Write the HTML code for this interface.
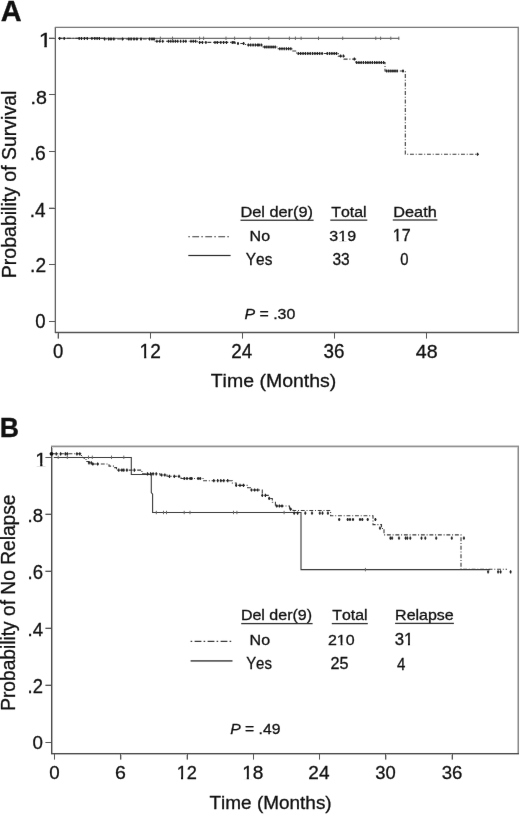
<!DOCTYPE html>
<html><head><meta charset="utf-8"><style>
html,body{margin:0;padding:0;background:#fff;overflow:hidden;}
svg{display:block;font-family:"Liberation Sans", sans-serif;font-kerning:none;}
text{fill:#111;stroke:#111;stroke-width:0.3px;}
</style></head><body>
<svg width="520" height="815" viewBox="0 0 520 815">
<defs><filter id="bl" x="0" y="0" width="520" height="815" filterUnits="userSpaceOnUse" color-interpolation-filters="sRGB"><feConvolveMatrix order="3" kernelMatrix="0.0016 0.0371 0.0016 0.0371 0.8450 0.0371 0.0016 0.0371 0.0016" edgeMode="duplicate" preserveAlpha="true"/></filter></defs>
<g filter="url(#bl)">
<rect width="520" height="815" fill="#fff"/>
<g id="static">
<text transform="translate(0.63,20.79) scale(1.0092,1)" font-size="28.68" font-weight="bold">A</text>
<text transform="translate(-0.17,437.4) scale(0.9553,1)" font-size="27.97" font-weight="bold">B</text>
<g transform="translate(38.65,47.4) scale(1.1952,1)"><text font-size="19.57">1</text><rect x="0.38" y="-2.56" width="4.33" height="3.36" fill="#fff"/><rect x="6.86" y="-2.56" width="3.89" height="3.36" fill="#fff"/></g>
<text transform="translate(30.43,103.71) scale(1.0368,1)" font-size="19.01">.8</text>
<text transform="translate(29.76,159.71) scale(0.9922,1)" font-size="19.44">.6</text>
<text transform="translate(29.79,217.1) scale(0.9647,1)" font-size="19.71">.4</text>
<text transform="translate(30.08,271.9) scale(0.9919,1)" font-size="19.29">.2</text>
<text transform="translate(35.36,328.31) scale(0.9540,1)" font-size="19.44">0</text>
<text transform="translate(53.06,358.2) scale(0.9271,1)" font-size="20.00">0</text>
<g transform="translate(139.56,358.4) scale(0.9614,1)"><text font-size="19.86">12</text><rect x="0.39" y="-2.58" width="4.35" height="3.38" fill="#fff"/><rect x="7.01" y="-2.58" width="3.90" height="3.38" fill="#fff"/></g>
<text transform="translate(231.36,358.1) scale(0.9694,1)" font-size="19.43">24</text>
<text transform="translate(323.55,358.2) scale(0.9417,1)" font-size="20.00">36</text>
<text transform="translate(415.81,357.81) scale(1.0318,1)" font-size="19.01">48</text>
<text transform="translate(210.71,387.2) scale(1.0162,1)" font-size="19.19">Time (Months)</text>
<text transform="translate(15.8,278.16) rotate(-90) scale(1.0100,1)" font-size="19.33">Probability of Survival</text>
<text transform="translate(240.39,216.9) scale(1.0815,1)" font-size="15.12">Del der(9)</text>
<text transform="translate(331.28,216.7) scale(1.0716,1)" font-size="14.83">Total</text>
<text transform="translate(393.3,216.7) scale(1.0867,1)" font-size="14.97">Death</text>
<text transform="translate(249.62,241) scale(1.0506,1)" font-size="15.26">No</text>
<text transform="translate(245.84,265) scale(0.9734,1)" font-size="15.84">Yes</text>
<g transform="translate(329.36,240.65) scale(1.0527,1)"><text font-size="15.21">319</text><rect x="8.76" y="-2.24" width="3.29" height="3.04" fill="#fff"/><rect x="13.87" y="-2.24" width="2.95" height="3.04" fill="#fff"/></g>
<g transform="translate(392.85,241.1) scale(1.0088,1)"><text font-size="15.94">17</text><rect x="0.31" y="-2.29" width="3.45" height="3.09" fill="#fff"/><rect x="5.67" y="-2.29" width="3.09" height="3.09" fill="#fff"/></g>
<text transform="translate(332.48,265.44) scale(0.9847,1)" font-size="15.77">33</text>
<text transform="translate(400.31,265.34) scale(0.9212,1)" font-size="16.06">0</text>
<text transform="translate(244.42,319) scale(1.0546,1)" font-size="15.12"><tspan font-style="italic">P</tspan> = .30</text>
<g transform="translate(35.37,465.7) scale(1.0670,1)"><text font-size="18.84">1</text><rect x="0.37" y="-2.51" width="4.14" height="3.31" fill="#fff"/><rect x="6.64" y="-2.51" width="3.71" height="3.31" fill="#fff"/></g>
<text transform="translate(27.53,521.71) scale(0.9989,1)" font-size="18.59">.8</text>
<text transform="translate(27.53,579.2) scale(0.9486,1)" font-size="19.58">.6</text>
<text transform="translate(27.52,635.6) scale(0.9982,1)" font-size="18.70">.4</text>
<text transform="translate(27.54,692.5) scale(0.9544,1)" font-size="19.29">.2</text>
<text transform="translate(32.45,748.91) scale(0.9789,1)" font-size="19.15">0</text>
<text transform="translate(49.15,779.11) scale(0.9789,1)" font-size="19.15">0</text>
<text transform="translate(114.92,779.01) scale(1.0445,1)" font-size="18.73">6</text>
<g transform="translate(176.64,779.2) scale(0.9611,1)"><text font-size="19.00">12</text><rect x="0.37" y="-2.52" width="4.15" height="3.32" fill="#fff"/><rect x="6.72" y="-2.52" width="3.72" height="3.32" fill="#fff"/></g>
<g transform="translate(242.16,779.01) scale(1.0196,1)"><text font-size="18.73">18</text><rect x="0.37" y="-2.50" width="4.10" height="3.30" fill="#fff"/><rect x="6.61" y="-2.50" width="3.68" height="3.30" fill="#fff"/></g>
<text transform="translate(308.35,779.2) scale(1.0015,1)" font-size="19.00">24</text>
<text transform="translate(375.36,779.01) scale(0.9847,1)" font-size="18.73">30</text>
<text transform="translate(441.65,779.01) scale(0.9951,1)" font-size="18.73">36</text>
<text transform="translate(209.52,809) scale(1.0362,1)" font-size="18.31">Time (Months)</text>
<text transform="translate(14.6,710.83) rotate(-90) scale(0.9919,1)" font-size="19.33">Probability of No Relapse</text>
<text transform="translate(240.92,620.3) scale(1.0899,1)" font-size="14.68">Del der(9)</text>
<text transform="translate(332.28,620.1) scale(1.0931,1)" font-size="14.54">Total</text>
<text transform="translate(395.12,620.3) scale(1.1340,1)" font-size="14.10">Relapse</text>
<text transform="translate(249.62,644.9) scale(1.0506,1)" font-size="15.26">No</text>
<text transform="translate(246.15,669.4) scale(0.9430,1)" font-size="15.84">Yes</text>
<g transform="translate(327.9,645.05) scale(1.0430,1)"><text font-size="15.35">210</text><rect x="8.84" y="-2.25" width="3.32" height="3.05" fill="#fff"/><rect x="14.00" y="-2.25" width="2.98" height="3.05" fill="#fff"/></g>
<g transform="translate(394.63,645.14) scale(1.0760,1)"><text font-size="15.63">31</text><rect x="9.00" y="-2.27" width="3.39" height="3.07" fill="#fff"/><rect x="14.24" y="-2.27" width="3.04" height="3.07" fill="#fff"/></g>
<text transform="translate(330.59,669.44) scale(1.0255,1)" font-size="15.77">25</text>
<text transform="translate(397,669.67) scale(0.9006,1)" font-size="16.76">4</text>
<text transform="translate(230.23,734.2) scale(1.0389,1)" font-size="15.12"><tspan font-style="italic">P</tspan> = .49</text>
<rect x="54" y="27" width="1" height="306" fill="#cdcdcd"/>
<rect x="55" y="26" width="464" height="1" fill="#dcdcdc"/>
<rect x="517" y="27" width="1" height="306" fill="#c8c8c8"/>
<rect x="55" y="331" width="464" height="1" fill="#d7d7d7"/>
<rect x="55" y="333" width="464" height="1" fill="#d7d7d7"/>
<rect x="55" y="27" width="1" height="306" fill="#606060"/>
<rect x="55" y="27" width="464" height="1" fill="#787878"/>
<rect x="518" y="27" width="1" height="306" fill="#888888"/>
<rect x="55" y="332" width="464" height="1" fill="#505050"/>
<rect x="49" y="37" width="6" height="1" fill="#c3c3c3"/>
<rect x="49" y="38" width="6" height="1" fill="#555555"/>
<rect x="49" y="94" width="6" height="1" fill="#555555"/>
<rect x="49" y="151" width="6" height="1" fill="#555555"/>
<rect x="49" y="207" width="6" height="1" fill="#c3c3c3"/>
<rect x="49" y="208" width="6" height="1" fill="#555555"/>
<rect x="49" y="264" width="6" height="1" fill="#555555"/>
<rect x="49" y="321" width="6" height="1" fill="#555555"/>
<rect x="57" y="333" width="1" height="5.6" fill="#c3c3c3"/>
<rect x="58" y="333" width="1" height="5.6" fill="#555555"/>
<rect x="150" y="333" width="1" height="5.6" fill="#555555"/>
<rect x="242" y="333" width="1" height="5.6" fill="#555555"/>
<rect x="334" y="333" width="1" height="5.6" fill="#555555"/>
<rect x="426" y="333" width="1" height="5.6" fill="#555555"/>
<rect x="52" y="446" width="1" height="308" fill="#b4b4b4"/>
<rect x="51" y="445" width="468" height="1" fill="#cdcdcd"/>
<rect x="51" y="447" width="468" height="1" fill="#e1e1e1"/>
<rect x="517" y="446" width="1" height="308" fill="#c3c3c3"/>
<rect x="51" y="754" width="468" height="1" fill="#b9b9b9"/>
<rect x="51" y="446" width="1" height="308" fill="#4b4b4b"/>
<rect x="51" y="446" width="468" height="1" fill="#909090"/>
<rect x="518" y="446" width="1" height="308" fill="#888888"/>
<rect x="51" y="753" width="468" height="1" fill="#4a4a4a"/>
<rect x="45.4" y="457" width="5.6" height="1" fill="#555555"/>
<rect x="45.4" y="513" width="5.6" height="1" fill="#c3c3c3"/>
<rect x="45.4" y="514" width="5.6" height="1" fill="#555555"/>
<rect x="45.4" y="570" width="5.6" height="1" fill="#c3c3c3"/>
<rect x="45.4" y="571" width="5.6" height="1" fill="#555555"/>
<rect x="45.4" y="627" width="5.6" height="1" fill="#c3c3c3"/>
<rect x="45.4" y="628" width="5.6" height="1" fill="#555555"/>
<rect x="45.4" y="684" width="5.6" height="1" fill="#c3c3c3"/>
<rect x="45.4" y="685" width="5.6" height="1" fill="#555555"/>
<rect x="45.4" y="742" width="5.6" height="1" fill="#555555"/>
<rect x="54" y="754" width="1" height="5.6" fill="#555555"/>
<rect x="121" y="754" width="1" height="5.6" fill="#c3c3c3"/>
<rect x="120" y="754" width="1" height="5.6" fill="#555555"/>
<rect x="186" y="754" width="1" height="5.6" fill="#c3c3c3"/>
<rect x="187" y="754" width="1" height="5.6" fill="#555555"/>
<rect x="253" y="754" width="1" height="5.6" fill="#555555"/>
<rect x="319" y="754" width="1" height="5.6" fill="#555555"/>
<rect x="386" y="754" width="1" height="5.6" fill="#c3c3c3"/>
<rect x="385" y="754" width="1" height="5.6" fill="#555555"/>
<rect x="451" y="754" width="1" height="5.6" fill="#c3c3c3"/>
<rect x="452" y="754" width="1" height="5.6" fill="#555555"/>
<rect x="240.5" y="219.6" width="73.1" height="1.3" fill="#323232"/>
<rect x="330.3" y="219.5" width="37" height="1.3" fill="#323232"/>
<rect x="392.8" y="219.35" width="44.6" height="1.3" fill="#323232"/>
<rect x="241.2" y="622.95" width="71.4" height="1.3" fill="#323232"/>
<rect x="331.8" y="622.95" width="36" height="1.3" fill="#323232"/>
<rect x="395.1" y="622.75" width="58.8" height="1.3" fill="#323232"/>
</g>
<g id="curves">
<rect x="58.4" y="37.8" width="340.8" height="1" fill="#4a4a4a"/>
<rect x="159.90" y="36.60" width="1" height="3.4" fill="#666"/>
<rect x="172.00" y="36.60" width="1" height="3.4" fill="#666"/>
<rect x="199.10" y="36.60" width="1" height="3.4" fill="#666"/>
<rect x="203.10" y="36.60" width="1" height="3.4" fill="#666"/>
<rect x="225.50" y="36.60" width="1" height="3.4" fill="#666"/>
<rect x="234.10" y="36.60" width="1" height="3.4" fill="#666"/>
<rect x="249.70" y="36.60" width="1" height="3.4" fill="#666"/>
<rect x="268.30" y="36.60" width="1" height="3.4" fill="#666"/>
<rect x="288.90" y="36.60" width="1" height="3.4" fill="#666"/>
<rect x="294.90" y="36.60" width="1" height="3.4" fill="#666"/>
<rect x="300.60" y="36.60" width="1" height="3.4" fill="#666"/>
<rect x="318.00" y="36.60" width="1" height="3.4" fill="#666"/>
<rect x="342.20" y="36.60" width="1" height="3.4" fill="#666"/>
<rect x="375.30" y="36.60" width="1" height="3.4" fill="#666"/>
<rect x="380.10" y="36.60" width="1" height="3.4" fill="#666"/>
<rect x="390.30" y="36.60" width="1" height="3.4" fill="#666"/>
<rect x="398.30" y="36.60" width="1" height="3.4" fill="#666"/>
<path d="M58.4,38.4 H104.5 V39.0 H155.2 V41.3 H197.3 V42.4 H235.2 V43.5 H245.6 V45.0 H263.1 V47.0 H277.5 V48.7 H291.9 V51.0 H296.5 V53.5 H338.3 V56.1 H344 V59.1 H355.6 V62.6 H385 V71.0 H405.3 V154.3 H479" fill="none" stroke="#3a3a3a" stroke-width="1.1" stroke-dasharray="3.9 1.8 1 1.8" />
<path d="M59.00,36.90h1.2v0.85h0.40v1.3h-0.40v0.85h-1.2v-0.85h-0.40v-1.3h0.40z" fill="#222222"/>
<path d="M63.60,36.90h1.2v0.85h0.40v1.3h-0.40v0.85h-1.2v-0.85h-0.40v-1.3h0.40z" fill="#222222"/>
<path d="M78.60,36.90h1.2v0.85h0.40v1.3h-0.40v0.85h-1.2v-0.85h-0.40v-1.3h0.40z" fill="#222222"/>
<path d="M80.90,36.90h1.2v0.85h0.40v1.3h-0.40v0.85h-1.2v-0.85h-0.40v-1.3h0.40z" fill="#222222"/>
<path d="M83.80,36.90h1.2v0.85h0.40v1.3h-0.40v0.85h-1.2v-0.85h-0.40v-1.3h0.40z" fill="#222222"/>
<path d="M86.70,36.90h1.2v0.85h0.40v1.3h-0.40v0.85h-1.2v-0.85h-0.40v-1.3h0.40z" fill="#222222"/>
<path d="M91.30,36.90h1.2v0.85h0.40v1.3h-0.40v0.85h-1.2v-0.85h-0.40v-1.3h0.40z" fill="#222222"/>
<path d="M94.20,36.90h1.2v0.85h0.40v1.3h-0.40v0.85h-1.2v-0.85h-0.40v-1.3h0.40z" fill="#222222"/>
<path d="M96.50,36.90h1.2v0.85h0.40v1.3h-0.40v0.85h-1.2v-0.85h-0.40v-1.3h0.40z" fill="#222222"/>
<path d="M98.80,36.90h1.2v0.85h0.40v1.3h-0.40v0.85h-1.2v-0.85h-0.40v-1.3h0.40z" fill="#222222"/>
<path d="M104.00,37.50h1.2v0.85h0.40v1.3h-0.40v0.85h-1.2v-0.85h-0.40v-1.3h0.40z" fill="#222222"/>
<path d="M108.10,37.50h1.2v0.85h0.40v1.3h-0.40v0.85h-1.2v-0.85h-0.40v-1.3h0.40z" fill="#222222"/>
<path d="M110.40,37.50h1.2v0.85h0.40v1.3h-0.40v0.85h-1.2v-0.85h-0.40v-1.3h0.40z" fill="#222222"/>
<path d="M113.20,37.50h1.2v0.85h0.40v1.3h-0.40v0.85h-1.2v-0.85h-0.40v-1.3h0.40z" fill="#222222"/>
<path d="M121.90,37.50h1.2v0.85h0.40v1.3h-0.40v0.85h-1.2v-0.85h-0.40v-1.3h0.40z" fill="#222222"/>
<path d="M128.20,37.50h1.2v0.85h0.40v1.3h-0.40v0.85h-1.2v-0.85h-0.40v-1.3h0.40z" fill="#222222"/>
<path d="M130.50,37.50h1.2v0.85h0.40v1.3h-0.40v0.85h-1.2v-0.85h-0.40v-1.3h0.40z" fill="#222222"/>
<path d="M133.40,37.50h1.2v0.85h0.40v1.3h-0.40v0.85h-1.2v-0.85h-0.40v-1.3h0.40z" fill="#222222"/>
<path d="M136.30,37.50h1.2v0.85h0.40v1.3h-0.40v0.85h-1.2v-0.85h-0.40v-1.3h0.40z" fill="#222222"/>
<path d="M140.40,37.50h1.2v0.85h0.40v1.3h-0.40v0.85h-1.2v-0.85h-0.40v-1.3h0.40z" fill="#222222"/>
<path d="M149.00,37.50h1.2v0.85h0.40v1.3h-0.40v0.85h-1.2v-0.85h-0.40v-1.3h0.40z" fill="#222222"/>
<path d="M151.40,37.50h1.2v0.85h0.40v1.3h-0.40v0.85h-1.2v-0.85h-0.40v-1.3h0.40z" fill="#222222"/>
<path d="M153.40,37.50h1.2v0.85h0.40v1.3h-0.40v0.85h-1.2v-0.85h-0.40v-1.3h0.40z" fill="#222222"/>
<path d="M156.30,39.80h1.2v0.85h0.40v1.3h-0.40v0.85h-1.2v-0.85h-0.40v-1.3h0.40z" fill="#222222"/>
<path d="M159.20,39.80h1.2v0.85h0.40v1.3h-0.40v0.85h-1.2v-0.85h-0.40v-1.3h0.40z" fill="#222222"/>
<path d="M162.10,39.80h1.2v0.85h0.40v1.3h-0.40v0.85h-1.2v-0.85h-0.40v-1.3h0.40z" fill="#222222"/>
<path d="M167.90,39.80h1.2v0.85h0.40v1.3h-0.40v0.85h-1.2v-0.85h-0.40v-1.3h0.40z" fill="#222222"/>
<path d="M170.20,39.80h1.2v0.85h0.40v1.3h-0.40v0.85h-1.2v-0.85h-0.40v-1.3h0.40z" fill="#222222"/>
<path d="M172.50,39.80h1.2v0.85h0.40v1.3h-0.40v0.85h-1.2v-0.85h-0.40v-1.3h0.40z" fill="#222222"/>
<path d="M174.80,39.80h1.2v0.85h0.40v1.3h-0.40v0.85h-1.2v-0.85h-0.40v-1.3h0.40z" fill="#222222"/>
<path d="M177.10,39.80h1.2v0.85h0.40v1.3h-0.40v0.85h-1.2v-0.85h-0.40v-1.3h0.40z" fill="#222222"/>
<path d="M180.00,39.80h1.2v0.85h0.40v1.3h-0.40v0.85h-1.2v-0.85h-0.40v-1.3h0.40z" fill="#222222"/>
<path d="M182.80,39.80h1.2v0.85h0.40v1.3h-0.40v0.85h-1.2v-0.85h-0.40v-1.3h0.40z" fill="#222222"/>
<path d="M185.20,39.80h1.2v0.85h0.40v1.3h-0.40v0.85h-1.2v-0.85h-0.40v-1.3h0.40z" fill="#222222"/>
<path d="M190.40,39.80h1.2v0.85h0.40v1.3h-0.40v0.85h-1.2v-0.85h-0.40v-1.3h0.40z" fill="#222222"/>
<path d="M192.70,39.80h1.2v0.85h0.40v1.3h-0.40v0.85h-1.2v-0.85h-0.40v-1.3h0.40z" fill="#222222"/>
<path d="M195.00,39.80h1.2v0.85h0.40v1.3h-0.40v0.85h-1.2v-0.85h-0.40v-1.3h0.40z" fill="#222222"/>
<path d="M199.00,40.90h1.2v0.85h0.40v1.3h-0.40v0.85h-1.2v-0.85h-0.40v-1.3h0.40z" fill="#222222"/>
<path d="M201.90,40.90h1.2v0.85h0.40v1.3h-0.40v0.85h-1.2v-0.85h-0.40v-1.3h0.40z" fill="#222222"/>
<path d="M205.30,40.90h1.2v0.85h0.40v1.3h-0.40v0.85h-1.2v-0.85h-0.40v-1.3h0.40z" fill="#222222"/>
<path d="M214.40,40.90h1.2v0.85h0.40v1.3h-0.40v0.85h-1.2v-0.85h-0.40v-1.3h0.40z" fill="#222222"/>
<path d="M216.70,40.90h1.2v0.85h0.40v1.3h-0.40v0.85h-1.2v-0.85h-0.40v-1.3h0.40z" fill="#222222"/>
<path d="M220.20,40.90h1.2v0.85h0.40v1.3h-0.40v0.85h-1.2v-0.85h-0.40v-1.3h0.40z" fill="#222222"/>
<path d="M223.00,40.90h1.2v0.85h0.40v1.3h-0.40v0.85h-1.2v-0.85h-0.40v-1.3h0.40z" fill="#222222"/>
<path d="M225.90,40.90h1.2v0.85h0.40v1.3h-0.40v0.85h-1.2v-0.85h-0.40v-1.3h0.40z" fill="#222222"/>
<path d="M231.70,40.90h1.2v0.85h0.40v1.3h-0.40v0.85h-1.2v-0.85h-0.40v-1.3h0.40z" fill="#222222"/>
<path d="M233.40,40.90h1.2v0.85h0.40v1.3h-0.40v0.85h-1.2v-0.85h-0.40v-1.3h0.40z" fill="#222222"/>
<path d="M237.40,42.00h1.2v0.85h0.40v1.3h-0.40v0.85h-1.2v-0.85h-0.40v-1.3h0.40z" fill="#222222"/>
<path d="M243.00,42.00h1.2v0.85h0.40v1.3h-0.40v0.85h-1.2v-0.85h-0.40v-1.3h0.40z" fill="#222222"/>
<path d="M247.80,43.50h1.2v0.85h0.40v1.3h-0.40v0.85h-1.2v-0.85h-0.40v-1.3h0.40z" fill="#222222"/>
<path d="M250.12,43.50h1.2v0.85h0.40v1.3h-0.40v0.85h-1.2v-0.85h-0.40v-1.3h0.40z" fill="#222222"/>
<path d="M252.45,43.50h1.2v0.85h0.40v1.3h-0.40v0.85h-1.2v-0.85h-0.40v-1.3h0.40z" fill="#222222"/>
<path d="M254.78,43.50h1.2v0.85h0.40v1.3h-0.40v0.85h-1.2v-0.85h-0.40v-1.3h0.40z" fill="#222222"/>
<path d="M257.10,43.50h1.2v0.85h0.40v1.3h-0.40v0.85h-1.2v-0.85h-0.40v-1.3h0.40z" fill="#222222"/>
<path d="M258.40,43.50h1.2v0.85h0.40v1.3h-0.40v0.85h-1.2v-0.85h-0.40v-1.3h0.40z" fill="#222222"/>
<path d="M260.70,43.50h1.2v0.85h0.40v1.3h-0.40v0.85h-1.2v-0.85h-0.40v-1.3h0.40z" fill="#222222"/>
<path d="M264.20,45.50h1.2v0.85h0.40v1.3h-0.40v0.85h-1.2v-0.85h-0.40v-1.3h0.40z" fill="#222222"/>
<path d="M266.28,45.50h1.2v0.85h0.40v1.3h-0.40v0.85h-1.2v-0.85h-0.40v-1.3h0.40z" fill="#222222"/>
<path d="M268.36,45.50h1.2v0.85h0.40v1.3h-0.40v0.85h-1.2v-0.85h-0.40v-1.3h0.40z" fill="#222222"/>
<path d="M270.44,45.50h1.2v0.85h0.40v1.3h-0.40v0.85h-1.2v-0.85h-0.40v-1.3h0.40z" fill="#222222"/>
<path d="M272.52,45.50h1.2v0.85h0.40v1.3h-0.40v0.85h-1.2v-0.85h-0.40v-1.3h0.40z" fill="#222222"/>
<path d="M274.60,45.50h1.2v0.85h0.40v1.3h-0.40v0.85h-1.2v-0.85h-0.40v-1.3h0.40z" fill="#222222"/>
<path d="M279.20,47.20h1.2v0.85h0.40v1.3h-0.40v0.85h-1.2v-0.85h-0.40v-1.3h0.40z" fill="#222222"/>
<path d="M281.40,47.20h1.2v0.85h0.40v1.3h-0.40v0.85h-1.2v-0.85h-0.40v-1.3h0.40z" fill="#222222"/>
<path d="M283.60,47.20h1.2v0.85h0.40v1.3h-0.40v0.85h-1.2v-0.85h-0.40v-1.3h0.40z" fill="#222222"/>
<path d="M285.80,47.20h1.2v0.85h0.40v1.3h-0.40v0.85h-1.2v-0.85h-0.40v-1.3h0.40z" fill="#222222"/>
<path d="M288.00,47.20h1.2v0.85h0.40v1.3h-0.40v0.85h-1.2v-0.85h-0.40v-1.3h0.40z" fill="#222222"/>
<path d="M290.20,47.20h1.2v0.85h0.40v1.3h-0.40v0.85h-1.2v-0.85h-0.40v-1.3h0.40z" fill="#222222"/>
<path d="M297.70,52.00h1.2v0.85h0.40v1.3h-0.40v0.85h-1.2v-0.85h-0.40v-1.3h0.40z" fill="#222222"/>
<path d="M300.08,52.00h1.2v0.85h0.40v1.3h-0.40v0.85h-1.2v-0.85h-0.40v-1.3h0.40z" fill="#222222"/>
<path d="M302.46,52.00h1.2v0.85h0.40v1.3h-0.40v0.85h-1.2v-0.85h-0.40v-1.3h0.40z" fill="#222222"/>
<path d="M304.84,52.00h1.2v0.85h0.40v1.3h-0.40v0.85h-1.2v-0.85h-0.40v-1.3h0.40z" fill="#222222"/>
<path d="M307.22,52.00h1.2v0.85h0.40v1.3h-0.40v0.85h-1.2v-0.85h-0.40v-1.3h0.40z" fill="#222222"/>
<path d="M309.60,52.00h1.2v0.85h0.40v1.3h-0.40v0.85h-1.2v-0.85h-0.40v-1.3h0.40z" fill="#222222"/>
<path d="M311.98,52.00h1.2v0.85h0.40v1.3h-0.40v0.85h-1.2v-0.85h-0.40v-1.3h0.40z" fill="#222222"/>
<path d="M314.36,52.00h1.2v0.85h0.40v1.3h-0.40v0.85h-1.2v-0.85h-0.40v-1.3h0.40z" fill="#222222"/>
<path d="M316.74,52.00h1.2v0.85h0.40v1.3h-0.40v0.85h-1.2v-0.85h-0.40v-1.3h0.40z" fill="#222222"/>
<path d="M319.12,52.00h1.2v0.85h0.40v1.3h-0.40v0.85h-1.2v-0.85h-0.40v-1.3h0.40z" fill="#222222"/>
<path d="M321.50,52.00h1.2v0.85h0.40v1.3h-0.40v0.85h-1.2v-0.85h-0.40v-1.3h0.40z" fill="#222222"/>
<path d="M326.70,52.00h1.2v0.85h0.40v1.3h-0.40v0.85h-1.2v-0.85h-0.40v-1.3h0.40z" fill="#222222"/>
<path d="M329.00,52.00h1.2v0.85h0.40v1.3h-0.40v0.85h-1.2v-0.85h-0.40v-1.3h0.40z" fill="#222222"/>
<path d="M331.30,52.00h1.2v0.85h0.40v1.3h-0.40v0.85h-1.2v-0.85h-0.40v-1.3h0.40z" fill="#222222"/>
<path d="M333.60,52.00h1.2v0.85h0.40v1.3h-0.40v0.85h-1.2v-0.85h-0.40v-1.3h0.40z" fill="#222222"/>
<path d="M335.90,52.00h1.2v0.85h0.40v1.3h-0.40v0.85h-1.2v-0.85h-0.40v-1.3h0.40z" fill="#222222"/>
<path d="M340.00,54.60h1.2v0.85h0.40v1.3h-0.40v0.85h-1.2v-0.85h-0.40v-1.3h0.40z" fill="#222222"/>
<path d="M342.80,54.60h1.2v0.85h0.40v1.3h-0.40v0.85h-1.2v-0.85h-0.40v-1.3h0.40z" fill="#222222"/>
<path d="M353.80,57.60h1.2v0.85h0.40v1.3h-0.40v0.85h-1.2v-0.85h-0.40v-1.3h0.40z" fill="#222222"/>
<path d="M356.10,61.10h1.2v0.85h0.40v1.3h-0.40v0.85h-1.2v-0.85h-0.40v-1.3h0.40z" fill="#222222"/>
<path d="M358.34,61.10h1.2v0.85h0.40v1.3h-0.40v0.85h-1.2v-0.85h-0.40v-1.3h0.40z" fill="#222222"/>
<path d="M360.58,61.10h1.2v0.85h0.40v1.3h-0.40v0.85h-1.2v-0.85h-0.40v-1.3h0.40z" fill="#222222"/>
<path d="M362.82,61.10h1.2v0.85h0.40v1.3h-0.40v0.85h-1.2v-0.85h-0.40v-1.3h0.40z" fill="#222222"/>
<path d="M365.07,61.10h1.2v0.85h0.40v1.3h-0.40v0.85h-1.2v-0.85h-0.40v-1.3h0.40z" fill="#222222"/>
<path d="M367.31,61.10h1.2v0.85h0.40v1.3h-0.40v0.85h-1.2v-0.85h-0.40v-1.3h0.40z" fill="#222222"/>
<path d="M369.55,61.10h1.2v0.85h0.40v1.3h-0.40v0.85h-1.2v-0.85h-0.40v-1.3h0.40z" fill="#222222"/>
<path d="M371.79,61.10h1.2v0.85h0.40v1.3h-0.40v0.85h-1.2v-0.85h-0.40v-1.3h0.40z" fill="#222222"/>
<path d="M374.03,61.10h1.2v0.85h0.40v1.3h-0.40v0.85h-1.2v-0.85h-0.40v-1.3h0.40z" fill="#222222"/>
<path d="M376.27,61.10h1.2v0.85h0.40v1.3h-0.40v0.85h-1.2v-0.85h-0.40v-1.3h0.40z" fill="#222222"/>
<path d="M378.52,61.10h1.2v0.85h0.40v1.3h-0.40v0.85h-1.2v-0.85h-0.40v-1.3h0.40z" fill="#222222"/>
<path d="M380.76,61.10h1.2v0.85h0.40v1.3h-0.40v0.85h-1.2v-0.85h-0.40v-1.3h0.40z" fill="#222222"/>
<path d="M383.00,61.10h1.2v0.85h0.40v1.3h-0.40v0.85h-1.2v-0.85h-0.40v-1.3h0.40z" fill="#222222"/>
<path d="M386.10,69.50h1.2v0.85h0.40v1.3h-0.40v0.85h-1.2v-0.85h-0.40v-1.3h0.40z" fill="#222222"/>
<path d="M388.18,69.50h1.2v0.85h0.40v1.3h-0.40v0.85h-1.2v-0.85h-0.40v-1.3h0.40z" fill="#222222"/>
<path d="M390.26,69.50h1.2v0.85h0.40v1.3h-0.40v0.85h-1.2v-0.85h-0.40v-1.3h0.40z" fill="#222222"/>
<path d="M392.34,69.50h1.2v0.85h0.40v1.3h-0.40v0.85h-1.2v-0.85h-0.40v-1.3h0.40z" fill="#222222"/>
<path d="M394.42,69.50h1.2v0.85h0.40v1.3h-0.40v0.85h-1.2v-0.85h-0.40v-1.3h0.40z" fill="#222222"/>
<path d="M396.50,69.50h1.2v0.85h0.40v1.3h-0.40v0.85h-1.2v-0.85h-0.40v-1.3h0.40z" fill="#222222"/>
<path d="M402.40,69.50h1.2v0.85h0.40v1.3h-0.40v0.85h-1.2v-0.85h-0.40v-1.3h0.40z" fill="#222222"/>
<path d="M476.90,152.80h1.2v0.85h0.40v1.3h-0.40v0.85h-1.2v-0.85h-0.40v-1.3h0.40z" fill="#222222"/>
<line x1="188.3" y1="236.7" x2="230" y2="236.7" stroke="#3a3a3a" stroke-width="1.1" stroke-dasharray="1.6 2.4 6.8 2.2"/>
<rect x="188.3" y="254.9" width="42.3" height="1.2" fill="#2a2a2a"/>
<path d="M53.8,457.5H131.3V474.5H151.3V492.6L152.6,494.2V512.5H301V569.6H490" fill="none" stroke="#3a3a3a" stroke-width="1.1"/>
<rect x="57.70" y="455.60" width="1" height="3.4" fill="#666"/>
<rect x="66.80" y="455.60" width="1" height="3.4" fill="#666"/>
<rect x="88.00" y="455.60" width="1" height="3.4" fill="#666"/>
<rect x="91.80" y="455.60" width="1" height="3.4" fill="#666"/>
<rect x="111.00" y="455.60" width="1" height="3.4" fill="#666"/>
<rect x="123.30" y="455.60" width="1" height="3.4" fill="#666"/>
<rect x="155.80" y="510.80" width="1" height="3.4" fill="#666"/>
<rect x="163.00" y="510.80" width="1" height="3.4" fill="#666"/>
<rect x="166.00" y="510.80" width="1" height="3.4" fill="#666"/>
<rect x="183.70" y="510.80" width="1" height="3.4" fill="#666"/>
<rect x="189.50" y="510.80" width="1" height="3.4" fill="#666"/>
<rect x="233.00" y="510.80" width="1" height="3.4" fill="#666"/>
<rect x="236.40" y="510.80" width="1" height="3.4" fill="#666"/>
<rect x="283.60" y="510.80" width="1" height="3.4" fill="#666"/>
<rect x="364.90" y="567.90" width="1" height="3.4" fill="#666"/>
<path d="M51.5,453.8 H80.8 V455.5 H82.5 V457.5 H84.2 V459.5 H86 V461.5 H89 V462.8 H92.5 V464.0 H109 V466.1 H113.5 V467.6 H116.5 V470.1 H141.9 V473.8 H160 V475.0 H167 V476.3 H181 V478.5 H203 V480.7 H232.3 V483 H236.2 V485.4 H247.7 V487.7 H251.5 V490 H262.3 V495.4 H269.2 V498.5 H272.3 V502.3 H275.4 V506 H289.5 V509.1 H293 V510.5 H330.6 V515.8 H373 V524.6 H381.5 V528.5 H384 V534.9 H461 V569.2 H507" fill="none" stroke="#3a3a3a" stroke-width="1.1" stroke-dasharray="3.9 1.8 1 1.8" />
<circle cx="51.5" cy="453.8" r="1.9" fill="#111"/>
<path d="M55.70,452.20h1.2v0.95h0.50v1.3h-0.50v0.95h-1.2v-0.95h-0.50v-1.3h0.50z" fill="#222222"/>
<path d="M60.00,452.20h1.2v0.95h0.50v1.3h-0.50v0.95h-1.2v-0.95h-0.50v-1.3h0.50z" fill="#222222"/>
<path d="M64.80,452.20h1.2v0.95h0.50v1.3h-0.50v0.95h-1.2v-0.95h-0.50v-1.3h0.50z" fill="#222222"/>
<path d="M66.70,452.20h1.2v0.95h0.50v1.3h-0.50v0.95h-1.2v-0.95h-0.50v-1.3h0.50z" fill="#222222"/>
<path d="M76.30,452.20h1.2v0.95h0.50v1.3h-0.50v0.95h-1.2v-0.95h-0.50v-1.3h0.50z" fill="#222222"/>
<path d="M79.20,452.20h1.2v0.95h0.50v1.3h-0.50v0.95h-1.2v-0.95h-0.50v-1.3h0.50z" fill="#222222"/>
<path d="M88.40,461.20h1.2v0.95h0.50v1.3h-0.50v0.95h-1.2v-0.95h-0.50v-1.3h0.50z" fill="#222222"/>
<path d="M90.70,461.20h1.2v0.95h0.50v1.3h-0.50v0.95h-1.2v-0.95h-0.50v-1.3h0.50z" fill="#222222"/>
<path d="M92.20,462.40h1.2v0.95h0.50v1.3h-0.50v0.95h-1.2v-0.95h-0.50v-1.3h0.50z" fill="#222222"/>
<path d="M97.00,462.40h1.2v0.95h0.50v1.3h-0.50v0.95h-1.2v-0.95h-0.50v-1.3h0.50z" fill="#222222"/>
<path d="M118.15,468.50h1.2v0.95h0.50v1.3h-0.50v0.95h-1.2v-0.95h-0.50v-1.3h0.50z" fill="#222222"/>
<path d="M121.30,468.50h1.2v0.95h0.50v1.3h-0.50v0.95h-1.2v-0.95h-0.50v-1.3h0.50z" fill="#222222"/>
<path d="M123.15,468.50h1.2v0.95h0.50v1.3h-0.50v0.95h-1.2v-0.95h-0.50v-1.3h0.50z" fill="#222222"/>
<path d="M126.30,468.50h1.2v0.95h0.50v1.3h-0.50v0.95h-1.2v-0.95h-0.50v-1.3h0.50z" fill="#222222"/>
<path d="M133.80,468.50h1.2v0.95h0.50v1.3h-0.50v0.95h-1.2v-0.95h-0.50v-1.3h0.50z" fill="#222222"/>
<path d="M146.90,472.20h1.2v0.95h0.50v1.3h-0.50v0.95h-1.2v-0.95h-0.50v-1.3h0.50z" fill="#222222"/>
<path d="M150.00,472.20h1.2v0.95h0.50v1.3h-0.50v0.95h-1.2v-0.95h-0.50v-1.3h0.50z" fill="#222222"/>
<path d="M152.50,472.20h1.2v0.95h0.50v1.3h-0.50v0.95h-1.2v-0.95h-0.50v-1.3h0.50z" fill="#222222"/>
<path d="M155.65,472.20h1.2v0.95h0.50v1.3h-0.50v0.95h-1.2v-0.95h-0.50v-1.3h0.50z" fill="#222222"/>
<path d="M161.00,473.40h1.2v0.95h0.50v1.3h-0.50v0.95h-1.2v-0.95h-0.50v-1.3h0.50z" fill="#222222"/>
<path d="M164.20,473.40h1.2v0.95h0.50v1.3h-0.50v0.95h-1.2v-0.95h-0.50v-1.3h0.50z" fill="#222222"/>
<path d="M168.90,474.70h1.2v0.95h0.50v1.3h-0.50v0.95h-1.2v-0.95h-0.50v-1.3h0.50z" fill="#222222"/>
<path d="M173.70,474.70h1.2v0.95h0.50v1.3h-0.50v0.95h-1.2v-0.95h-0.50v-1.3h0.50z" fill="#222222"/>
<path d="M178.40,474.70h1.2v0.95h0.50v1.3h-0.50v0.95h-1.2v-0.95h-0.50v-1.3h0.50z" fill="#222222"/>
<path d="M183.70,476.90h1.2v0.95h0.50v1.3h-0.50v0.95h-1.2v-0.95h-0.50v-1.3h0.50z" fill="#222222"/>
<path d="M186.40,476.90h1.2v0.95h0.50v1.3h-0.50v0.95h-1.2v-0.95h-0.50v-1.3h0.50z" fill="#222222"/>
<path d="M189.60,476.90h1.2v0.95h0.50v1.3h-0.50v0.95h-1.2v-0.95h-0.50v-1.3h0.50z" fill="#222222"/>
<path d="M191.10,476.90h1.2v0.95h0.50v1.3h-0.50v0.95h-1.2v-0.95h-0.50v-1.3h0.50z" fill="#222222"/>
<path d="M197.50,476.90h1.2v0.95h0.50v1.3h-0.50v0.95h-1.2v-0.95h-0.50v-1.3h0.50z" fill="#222222"/>
<path d="M199.60,476.90h1.2v0.95h0.50v1.3h-0.50v0.95h-1.2v-0.95h-0.50v-1.3h0.50z" fill="#222222"/>
<path d="M213.20,479.10h1.2v0.95h0.50v1.3h-0.50v0.95h-1.2v-0.95h-0.50v-1.3h0.50z" fill="#222222"/>
<path d="M217.10,479.10h1.2v0.95h0.50v1.3h-0.50v0.95h-1.2v-0.95h-0.50v-1.3h0.50z" fill="#222222"/>
<path d="M220.20,479.10h1.2v0.95h0.50v1.3h-0.50v0.95h-1.2v-0.95h-0.50v-1.3h0.50z" fill="#222222"/>
<path d="M223.20,479.10h1.2v0.95h0.50v1.3h-0.50v0.95h-1.2v-0.95h-0.50v-1.3h0.50z" fill="#222222"/>
<path d="M227.10,479.10h1.2v0.95h0.50v1.3h-0.50v0.95h-1.2v-0.95h-0.50v-1.3h0.50z" fill="#222222"/>
<path d="M235.60,483.80h1.2v0.95h0.50v1.3h-0.50v0.95h-1.2v-0.95h-0.50v-1.3h0.50z" fill="#222222"/>
<path d="M239.40,483.80h1.2v0.95h0.50v1.3h-0.50v0.95h-1.2v-0.95h-0.50v-1.3h0.50z" fill="#222222"/>
<path d="M242.90,483.80h1.2v0.95h0.50v1.3h-0.50v0.95h-1.2v-0.95h-0.50v-1.3h0.50z" fill="#222222"/>
<path d="M250.90,488.40h1.2v0.95h0.50v1.3h-0.50v0.95h-1.2v-0.95h-0.50v-1.3h0.50z" fill="#222222"/>
<path d="M254.00,488.40h1.2v0.95h0.50v1.3h-0.50v0.95h-1.2v-0.95h-0.50v-1.3h0.50z" fill="#222222"/>
<path d="M257.10,488.40h1.2v0.95h0.50v1.3h-0.50v0.95h-1.2v-0.95h-0.50v-1.3h0.50z" fill="#222222"/>
<path d="M261.70,493.80h1.2v0.95h0.50v1.3h-0.50v0.95h-1.2v-0.95h-0.50v-1.3h0.50z" fill="#222222"/>
<path d="M264.80,493.80h1.2v0.95h0.50v1.3h-0.50v0.95h-1.2v-0.95h-0.50v-1.3h0.50z" fill="#222222"/>
<path d="M268.60,496.90h1.2v0.95h0.50v1.3h-0.50v0.95h-1.2v-0.95h-0.50v-1.3h0.50z" fill="#222222"/>
<path d="M276.10,504.40h1.2v0.95h0.50v1.3h-0.50v0.95h-1.2v-0.95h-0.50v-1.3h0.50z" fill="#222222"/>
<path d="M278.80,504.40h1.2v0.95h0.50v1.3h-0.50v0.95h-1.2v-0.95h-0.50v-1.3h0.50z" fill="#222222"/>
<path d="M281.40,504.40h1.2v0.95h0.50v1.3h-0.50v0.95h-1.2v-0.95h-0.50v-1.3h0.50z" fill="#222222"/>
<path d="M289.90,507.50h1.2v0.95h0.50v1.3h-0.50v0.95h-1.2v-0.95h-0.50v-1.3h0.50z" fill="#222222"/>
<path d="M293.60,511.60h1.2v0.95h0.50v1.3h-0.50v0.95h-1.2v-0.95h-0.50v-1.3h0.50z" fill="#222222"/>
<path d="M297.00,511.60h1.2v0.95h0.50v1.3h-0.50v0.95h-1.2v-0.95h-0.50v-1.3h0.50z" fill="#222222"/>
<path d="M304.70,511.60h1.2v0.95h0.50v1.3h-0.50v0.95h-1.2v-0.95h-0.50v-1.3h0.50z" fill="#222222"/>
<path d="M311.40,511.60h1.2v0.95h0.50v1.3h-0.50v0.95h-1.2v-0.95h-0.50v-1.3h0.50z" fill="#222222"/>
<path d="M319.20,511.60h1.2v0.95h0.50v1.3h-0.50v0.95h-1.2v-0.95h-0.50v-1.3h0.50z" fill="#222222"/>
<path d="M321.90,511.60h1.2v0.95h0.50v1.3h-0.50v0.95h-1.2v-0.95h-0.50v-1.3h0.50z" fill="#222222"/>
<path d="M327.30,511.60h1.2v0.95h0.50v1.3h-0.50v0.95h-1.2v-0.95h-0.50v-1.3h0.50z" fill="#222222"/>
<path d="M338.60,517.90h1.2v0.95h0.50v1.3h-0.50v0.95h-1.2v-0.95h-0.50v-1.3h0.50z" fill="#222222"/>
<path d="M347.10,517.90h1.2v0.95h0.50v1.3h-0.50v0.95h-1.2v-0.95h-0.50v-1.3h0.50z" fill="#222222"/>
<path d="M349.40,517.90h1.2v0.95h0.50v1.3h-0.50v0.95h-1.2v-0.95h-0.50v-1.3h0.50z" fill="#222222"/>
<path d="M352.40,517.90h1.2v0.95h0.50v1.3h-0.50v0.95h-1.2v-0.95h-0.50v-1.3h0.50z" fill="#222222"/>
<path d="M359.40,517.90h1.2v0.95h0.50v1.3h-0.50v0.95h-1.2v-0.95h-0.50v-1.3h0.50z" fill="#222222"/>
<path d="M361.70,517.90h1.2v0.95h0.50v1.3h-0.50v0.95h-1.2v-0.95h-0.50v-1.3h0.50z" fill="#222222"/>
<path d="M367.10,517.90h1.2v0.95h0.50v1.3h-0.50v0.95h-1.2v-0.95h-0.50v-1.3h0.50z" fill="#222222"/>
<path d="M374.80,517.90h1.2v0.95h0.50v1.3h-0.50v0.95h-1.2v-0.95h-0.50v-1.3h0.50z" fill="#222222"/>
<path d="M379.40,526.60h1.2v0.95h0.50v1.3h-0.50v0.95h-1.2v-0.95h-0.50v-1.3h0.50z" fill="#222222"/>
<path d="M389.80,536.60h1.2v0.95h0.50v1.3h-0.50v0.95h-1.2v-0.95h-0.50v-1.3h0.50z" fill="#222222"/>
<path d="M391.50,536.60h1.2v0.95h0.50v1.3h-0.50v0.95h-1.2v-0.95h-0.50v-1.3h0.50z" fill="#222222"/>
<path d="M398.40,536.60h1.2v0.95h0.50v1.3h-0.50v0.95h-1.2v-0.95h-0.50v-1.3h0.50z" fill="#222222"/>
<path d="M405.00,536.60h1.2v0.95h0.50v1.3h-0.50v0.95h-1.2v-0.95h-0.50v-1.3h0.50z" fill="#222222"/>
<path d="M406.70,536.60h1.2v0.95h0.50v1.3h-0.50v0.95h-1.2v-0.95h-0.50v-1.3h0.50z" fill="#222222"/>
<path d="M409.70,536.60h1.2v0.95h0.50v1.3h-0.50v0.95h-1.2v-0.95h-0.50v-1.3h0.50z" fill="#222222"/>
<path d="M420.90,536.60h1.2v0.95h0.50v1.3h-0.50v0.95h-1.2v-0.95h-0.50v-1.3h0.50z" fill="#222222"/>
<path d="M424.70,536.60h1.2v0.95h0.50v1.3h-0.50v0.95h-1.2v-0.95h-0.50v-1.3h0.50z" fill="#222222"/>
<path d="M435.60,536.60h1.2v0.95h0.50v1.3h-0.50v0.95h-1.2v-0.95h-0.50v-1.3h0.50z" fill="#222222"/>
<path d="M451.20,536.60h1.2v0.95h0.50v1.3h-0.50v0.95h-1.2v-0.95h-0.50v-1.3h0.50z" fill="#222222"/>
<path d="M463.30,536.60h1.2v0.95h0.50v1.3h-0.50v0.95h-1.2v-0.95h-0.50v-1.3h0.50z" fill="#222222"/>
<path d="M487.50,570.30h1.2v0.95h0.50v1.3h-0.50v0.95h-1.2v-0.95h-0.50v-1.3h0.50z" fill="#222222"/>
<path d="M497.50,570.30h1.2v0.95h0.50v1.3h-0.50v0.95h-1.2v-0.95h-0.50v-1.3h0.50z" fill="#222222"/>
<path d="M500.00,570.30h1.2v0.95h0.50v1.3h-0.50v0.95h-1.2v-0.95h-0.50v-1.3h0.50z" fill="#222222"/>
<path d="M510.00,570.30h1.2v0.95h0.50v1.3h-0.50v0.95h-1.2v-0.95h-0.50v-1.3h0.50z" fill="#222222"/>
<line x1="190.6" y1="641.4" x2="231.8" y2="641.4" stroke="#3a3a3a" stroke-width="1.1" stroke-dasharray="1.6 2.4 6.8 2.2"/>
<rect x="190.6" y="660.1" width="41.9" height="1.6" fill="#505050"/>
</g>
</g>
</svg>
</body></html>
